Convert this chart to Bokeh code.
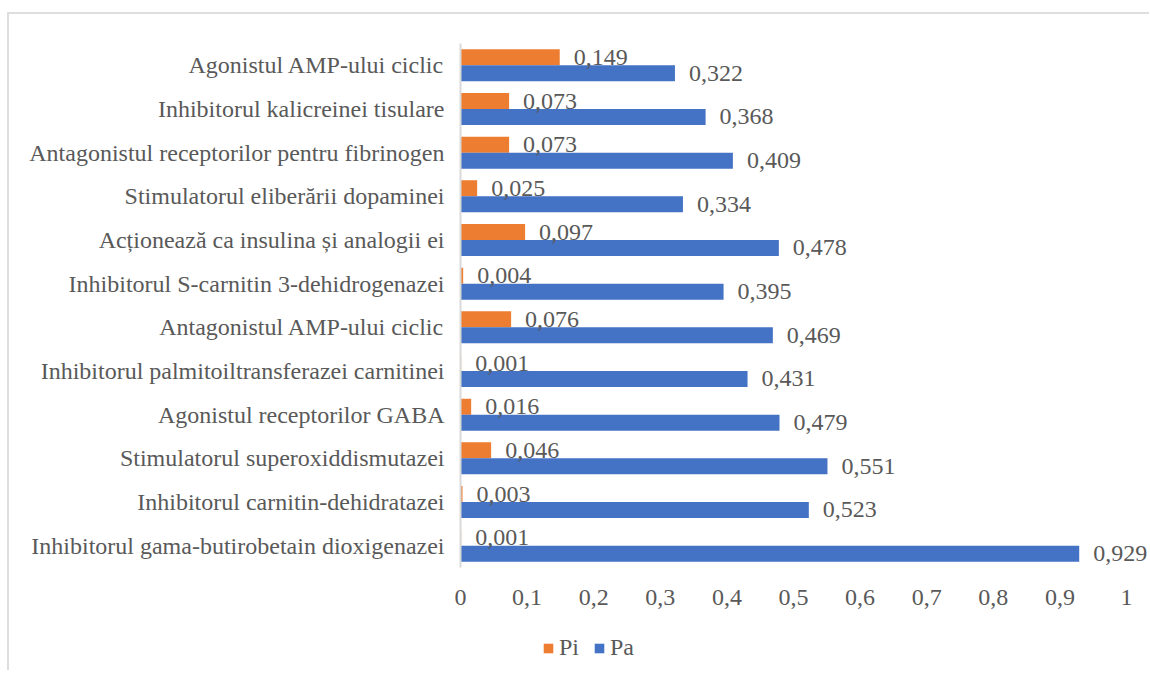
from bokeh.plotting import figure
from bokeh.layouts import column
from bokeh.models import (FactorRange, Range1d, ColumnDataSource, LabelSet, Legend,
                          LegendItem, FixedTicker, CustomJSTickFormatter)
from bokeh.transform import dodge
from bokeh.embed import file_html
from bokeh.resources import INLINE

# categories listed from bottom to top
categories = [
    "Inhibitorul gama-butirobetain dioxigenazei",
    "Inhibitorul carnitin-dehidratazei",
    "Stimulatorul superoxiddismutazei",
    "Agonistul receptorilor GABA",
    "Inhibitorul palmitoiltransferazei carnitinei",
    "Antagonistul AMP-ului ciclic",
    "Inhibitorul S-carnitin 3-dehidrogenazei",
    "Acționează ca insulina și analogii ei",
    "Stimulatorul eliberării dopaminei",
    "Antagonistul receptorilor pentru fibrinogen",
    "Inhibitorul kalicreinei tisulare",
    "Agonistul AMP-ului ciclic",
]
pi_values = [0.001, 0.003, 0.046, 0.016, 0.001, 0.076, 0.004, 0.097, 0.025, 0.073, 0.073, 0.149]
pa_values = [0.929, 0.523, 0.551, 0.479, 0.431, 0.469, 0.395, 0.478, 0.334, 0.409, 0.368, 0.322]
x_ticks = [0, 0.1, 0.2, 0.3, 0.4, 0.5, 0.6, 0.7, 0.8, 0.9, 1]
series_names = ["Pi", "Pa"]

FONT = "Liberation Serif"
TEXT = "#595959"
ORANGE = "#ED7D31"
BLUE = "#4472C4"
FS = "24px"

def fmt(v):
    return f"{v:.3f}".replace(".", ",")

src = ColumnDataSource(dict(
    cat=categories, pi=pi_values, pa=pa_values,
    pi_lbl=[fmt(v) for v in pi_values], pa_lbl=[fmt(v) for v in pa_values],
))

W = 1140
LB = 451
fig = figure(width=W, height=616,
             y_range=FactorRange(factors=categories),
             x_range=Range1d(0, (W - LB) / 666),
             output_backend="svg", toolbar_location=None,
             min_border_left=LB, min_border_right=0,
             min_border_top=29, min_border_bottom=63)
fig.outline_line_color = None
fig.grid.visible = False

off = 0.183
bh = 0.366
fig.hbar(y=dodge("cat", off, range=fig.y_range), left=0, right="pi", height=bh,
         color=ORANGE, line_color=None, source=src)
fig.hbar(y=dodge("cat", -off, range=fig.y_range), left=0, right="pa", height=bh,
         color=BLUE, line_color=None, source=src)

for fld, lbl, o in (("pi", "pi_lbl", off), ("pa", "pa_lbl", -off)):
    ls = LabelSet(x=fld, y=dodge("cat", o, range=fig.y_range), text=lbl, source=src,
                  x_offset=14, text_baseline="middle", text_align="left",
                  text_font=FONT, text_font_size=FS, text_color=TEXT)
    fig.add_layout(ls)

# y axis
fig.yaxis.axis_line_color = "#d9d9d9"
fig.yaxis.axis_line_width = 2
fig.yaxis.major_tick_line_color = None
fig.yaxis.minor_tick_line_color = None
fig.yaxis.major_label_standoff = 10
fig.yaxis.major_label_text_font = FONT
fig.yaxis.major_label_text_font_size = FS
fig.yaxis.major_label_text_color = TEXT

# x axis
fig.xaxis.ticker = FixedTicker(ticks=x_ticks)
fig.xaxis.formatter = CustomJSTickFormatter(
    code="return (Math.round(tick*10)/10).toString().replace('.', ',');")
fig.xaxis.axis_line_color = None
fig.xaxis.major_tick_line_color = None
fig.xaxis.minor_tick_line_color = None
fig.xaxis.major_label_standoff = 16
fig.xaxis.major_label_text_font = FONT
fig.xaxis.major_label_text_font_size = FS
fig.xaxis.major_label_text_color = TEXT

# legend strip (its renderers are hidden; only the legend is shown)
leg = figure(width=W, height=40, x_range=Range1d(0, 1),
             y_range=FactorRange(factors=categories),
             output_backend="svg", toolbar_location=None,
             x_axis_type=None, y_axis_type=None,
             min_border_left=0, min_border_right=0, min_border_top=0, min_border_bottom=0)
leg.outline_line_color = None
leg.grid.visible = False
lr_pi = leg.hbar(y="cat", left=0, right="pi", height=bh, color=ORANGE, line_color=None,
                 source=src, visible=False)
lr_pa = leg.hbar(y="cat", left=0, right="pa", height=bh, color=BLUE, line_color=None,
                 source=src, visible=False)
legend = Legend(items=[LegendItem(label=series_names[0], renderers=[lr_pi]),
                       LegendItem(label=series_names[1], renderers=[lr_pa])],
                orientation="horizontal", location=(82, 9),
                background_fill_alpha=0, border_line_color=None,
                inactive_fill_alpha=0,
                padding=0, margin=0, spacing=14, label_standoff=5,
                glyph_width=12, glyph_height=12,
                label_text_font=FONT, label_text_font_size=FS,
                label_text_color=TEXT)
leg.add_layout(legend, "center")

p = column(fig, leg, spacing=0,
           styles={"border-left": "2px solid #dedede",
                   "border-top": "2px solid #dedede",
                   "margin-left": "7px",
                   "margin-top": "12px"})

open("out.html", "w").write(file_html(p, INLINE))
